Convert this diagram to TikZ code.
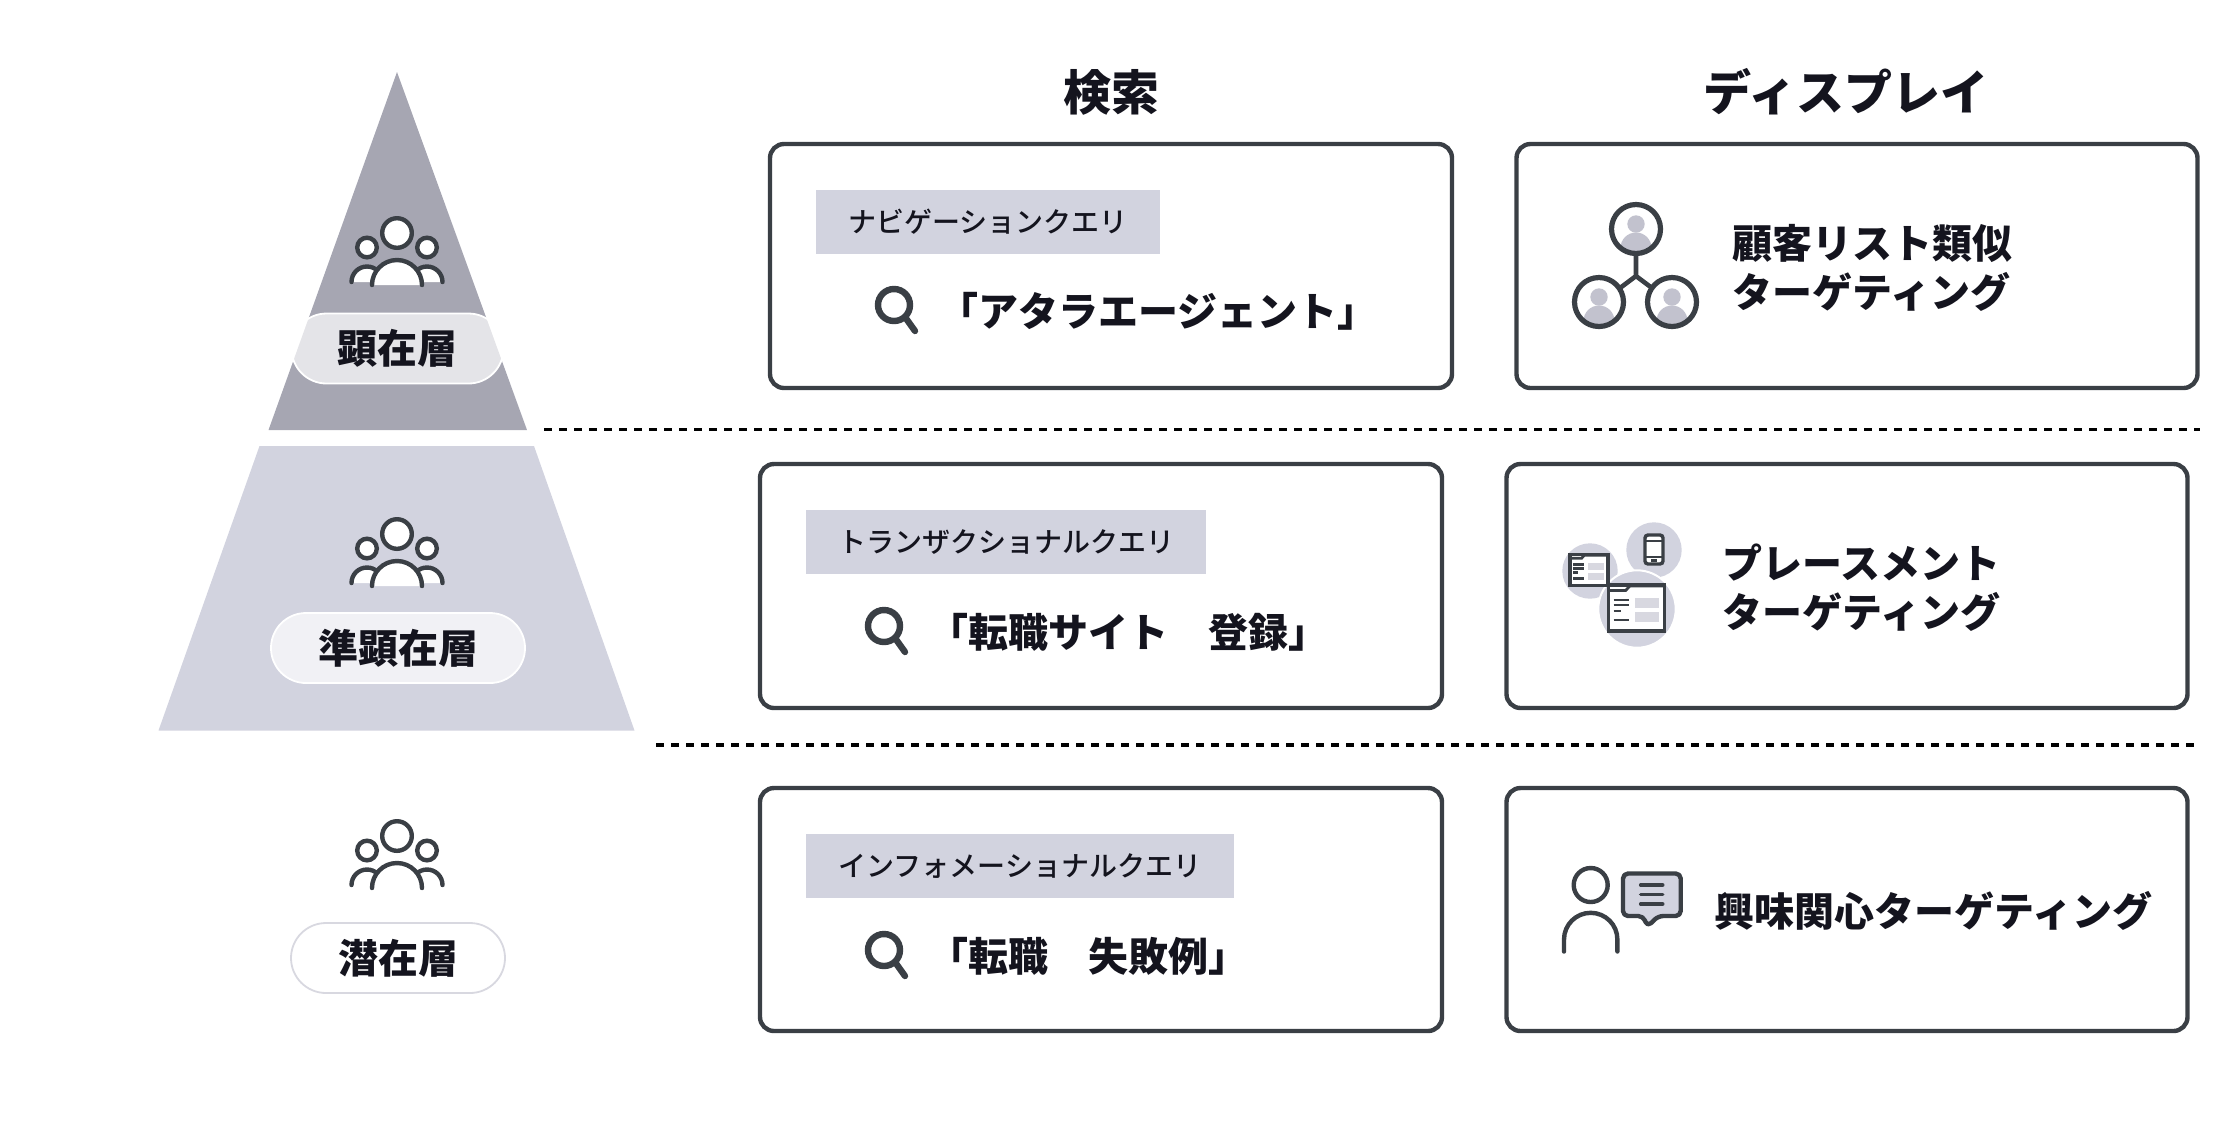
\documentclass[tikz,border=0pt]{standalone}
\usepackage{fontspec}
\setmainfont{Noto Sans CJK JP}
\newfontfamily\jpmed{Noto Sans CJK JP Medium}
\definecolor{ink}{HTML}{14141E}
\definecolor{line}{HTML}{3A3F45}
\definecolor{tierA}{HTML}{A6A6B2}
\definecolor{tierB}{HTML}{D2D3DF}
\definecolor{soft}{HTML}{C2C2CE}
\definecolor{lite}{HTML}{D8D8E0}
\tikzset{
  x=0.5pt,y=-0.5pt,
  card/.style={draw=line,line width=2.2pt,rounded corners=7pt,fill=white},
  tag/.style={fill=tierB,inner sep=0pt,text=ink,font=\jpmed\fontsize{14}{16}\selectfont,minimum height=32pt},
  query/.style={anchor=west,inner sep=0pt,text=ink,font=\fontsize{20}{24}\selectfont\bfseries},
  head/.style={inner sep=0pt,text=ink,font=\fontsize{24}{28}\selectfont\bfseries},
  dtext/.style={anchor=west,inner sep=0pt,text=ink,font=\fontsize{20}{24}\selectfont\bfseries},
  pill/.style={inner sep=0pt,text=ink,font=\fontsize{20}{23}\selectfont\bfseries,rounded corners=17.5pt,text opacity=1,minimum height=35.5pt},
  sep/.style={line width=1.7pt,black,dash pattern=on 3.8pt off 3.7pt},
  ic/.style={draw=line,line width=2.2pt,line cap=round},
  pics/people/.style={code={
    \draw[ic,fill=white] (-30,14.5) circle[radius=9.8];
    \draw[ic,fill=white] (30,14.5) circle[radius=9.8];
    \draw[ic,fill=white] (-45.5,49) arc[start angle=180,end angle=360,radius=15.5];
    \draw[ic,fill=white] (14.5,49) arc[start angle=180,end angle=360,radius=15.5];
    \draw[ic,fill=white] (0,0) circle[radius=14.8];
    \draw[ic,fill=white] (-25,52) arc[start angle=180,end angle=360,radius=25];
  }},
  pics/lens/.style={code={
    \draw[line width=3.2pt,draw=line,fill=none] (0,0) circle[radius=16];
    \draw[line width=3.2pt,draw=line,line cap=round] (11,12) -- (21,26);
  }},
  pics/contact/.style={code={
    \begin{scope}
      \clip (0,0) circle[radius=23];
      \fill[soft] (0,-5) circle[radius=8.7];
      \fill[soft] (0,19) ellipse[x radius=15.5,y radius=15.5];
      \fill[soft] (-15.5,19) rectangle (15.5,30);
    \end{scope}
    \draw[draw=line,line width=2.6pt] (0,0) circle[radius=24.5];
  }},
  pics/page/.style={code={
    \fill[white] (0,0) rectangle (56,46);
    \fill[lite] (26,13) rectangle (50,23);
    \fill[lite] (26,27) rectangle (50,37);
    \draw[draw=line,line width=1.4pt] (1,5.5) -- (17,5.5) -- (21,1) -- (56,1);
    \draw[draw=line,line width=1.4pt] (5,15) -- (20,15) (5,20) -- (20,20) (5,26) -- (12,26) (5,35) -- (20,35);
    \draw[draw=line,line width=1.7pt] (0,0) rectangle (56,46);
  }},
}
\begin{document}
\begin{tikzpicture}
\useasboundingbox (0,0) rectangle (2240,1132);

% pyramid
\fill[tierA] (397,72) -- (527,430) -- (268.5,430) -- cycle;
\fill[tierB] (259.5,446) -- (534,446) -- (634.5,730.5) -- (158.5,730.5) -- cycle;
\pic (peopleA) at (397,233) {people};
\pic (peopleB) at (397,534) {people};
\pic (peopleC) at (397,836) {people};
\node[pill,draw=white,line width=0.9pt,fill=white,fill opacity=.7,minimum width=106pt,minimum height=35pt] (pillA) at (397.5,348.5) {顕在層};
\node[pill,draw=white,line width=0.9pt,fill=white,fill opacity=.7,minimum width=127pt,minimum height=35pt] (pillB) at (398,648) {準顕在層};
\node[pill,draw=lite,line width=0.9pt,fill=white,minimum width=107pt,minimum height=35pt] (pillC) at (398,958) {潜在層};

% separators
\coordinate (sepAa) at (544,429.5); \coordinate (sepAb) at (2200,429.5);
\coordinate (sepBa) at (656,745); \coordinate (sepBb) at (2200,745);
\draw[sep] (sepAa) -- (sepAb);
\draw[sep] (sepBa) -- (sepBb);

% headers
\node[head] (hSearch) at (1111,92) {検索};
\node[head] (hDisp) at (1846,92) {ディスプレイ};

% cards
\draw[card] (770,144) rectangle (1452,388);
\draw[card] (760,464) rectangle (1442,708);
\draw[card] (760,788) rectangle (1442,1031);
\draw[card] (1516.5,144) rectangle (2197.5,388);
\draw[card] (1506.5,464) rectangle (2187.5,708);
\draw[card] (1506.5,788) rectangle (2187.5,1031);

% tags
\node[tag,minimum width=172pt] (tagA) at (988,222) {\raisebox{-0.6pt}{ナビゲーションクエリ}};
\node[tag,minimum width=200pt] (tagB) at (1006,542) {\raisebox{-0.6pt}{トランザクショナルクエリ}};
\node[tag,minimum width=214pt] (tagC) at (1020,866) {\raisebox{-0.6pt}{インフォメーショナルクエリ}};

% search
\pic (lensA) at (894,305) {lens};
\pic (lensB) at (884,626) {lens};
\pic (lensC) at (884,950) {lens};
\node[query] (qA) at (938,311) {「アタラエージェント」};
\node[query] (qB) at (928,632) {「転職サイト　登録」};
\node[query] (qC) at (928,956) {「転職　失敗例」};

% display 1
\pic (cA) at (1636,229) {contact};
\pic (cB) at (1599,302) {contact};
\pic (cC) at (1672,302) {contact};
\draw[draw=line,line width=2.3pt] (1636,254) -- (1636,276) -- (1620,288) (1636,276) -- (1652,288);
\node[dtext] (dA1) at (1732,243) {顧客リスト類似};
\node[dtext] (dA2) at (1732,292) {ターゲティング};

% display 2
\fill[tierB] (1654,550) circle[radius=27.7];
\fill[tierB] (1590,571) circle[radius=27.7];
\draw[white,fill=tierB,line width=1pt] (1637,609) circle[radius=38.7];
\pic[transform shape,scale=0.68] (pageA) at (1570,554.5) {page};
\pic (pageB) at (1608.7,585) {page};
\draw[draw=line,line width=1.7pt,fill=white,rounded corners=1.5pt] (1645,535) rectangle (1663,564);
\draw[draw=line,line width=1.1pt] (1645,541) -- (1663,541) (1645,557) -- (1663,557) (1651,560.5) -- (1657,560.5);
\node[dtext] (dB1) at (1722,563) {プレースメント};
\node[dtext] (dB2) at (1722,612) {ターゲティング};

% display 3
\draw[ic] (1590.7,885) circle[radius=17];
\draw[ic] (1564,951.5) -- (1564,939.5) arc[start angle=180,end angle=360,radius=26.7] -- (1617.4,951.5);
\draw[draw=line,line width=2.2pt,fill=tierB,line join=round,rounded corners=2.5pt] (1623,873.5) -- (1680.7,873.5) -- (1680.7,916) -- (1658.3,916) -- (1647.3,926.7) -- (1643.3,916) -- (1623,916) -- cycle;
\draw[ic,line width=1.8pt] (1640.7,885) -- (1662.7,885) (1640.7,894.5) -- (1662.7,894.5) (1640.7,904) -- (1662.7,904);
\node[dtext] (dC1) at (1714,911) {興味関心ターゲティング};
\end{tikzpicture}
\end{document}
